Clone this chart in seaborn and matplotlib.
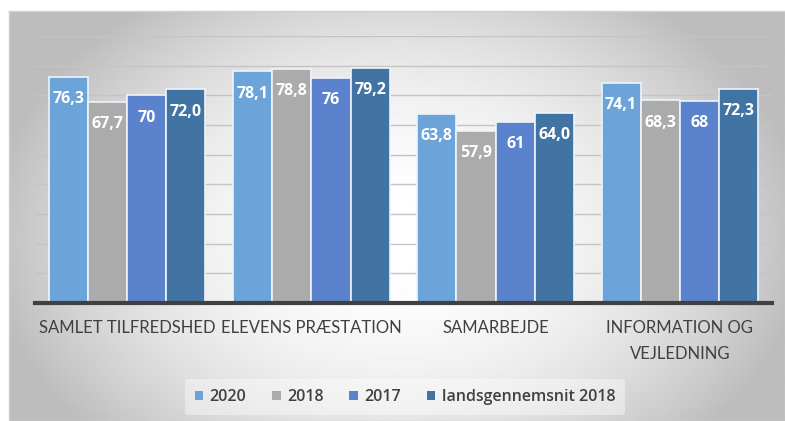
import numpy as np
import pandas as pd
import seaborn as sns
import matplotlib.pyplot as plt
from matplotlib.patches import Patch

# data
kategorier = ["SAMLET TILFREDSHED", "ELEVENS PRÆSTATION", "SAMARBEJDE", "INFORMATION OG\nVEJLEDNING"]
serier = ["2020", "2018", "2017", "landsgennemsnit 2018"]
v2020 = [76.3, 78.1, 63.8, 74.1]
v2018 = [67.7, 78.8, 57.9, 68.3]
v2017 = [70, 76, 61, 68]
vlands = [72.0, 79.2, 64.0, 72.3]
etiketter = [
    ["76,3", "78,1", "63,8", "74,1"],
    ["67,7", "78,8", "57,9", "68,3"],
    ["70", "76", "61", "68"],
    ["72,0", "79,2", "64,0", "72,3"],
]
farver = ["#6CA3D8", "#ABABAB", "#5B82CC", "#4274A3"]

rows = []
for s, vals in zip(serier, [v2020, v2018, v2017, vlands]):
    for k, v in zip(kategorier, vals):
        rows.append({"kategori": k, "serie": s, "vaerdi": v})
df = pd.DataFrame(rows)

sns.set_style("white")
plt.rcParams["font.family"] = ["Lato", "DejaVu Sans"]

fig = plt.figure(figsize=(7.85, 4.21), dpi=100)
fig.patch.set_facecolor("white")

# grey radial gradient behind the chart
bg = fig.add_axes([9 / 785, 0, 1 - 9 / 785, 410 / 421], zorder=0)
yy, xx = np.mgrid[0:1:200j, 0:1:300j]
r2 = ((xx - 0.5) / 0.55) ** 2 + ((yy - 0.55) / 0.75) ** 2
shade = np.clip(1.0 - 0.28 * r2, 0.74, 1.0)
bg.imshow(shade, cmap="gray", vmin=0, vmax=1, aspect="auto", extent=[0, 1, 0, 1])
bg.set_xticks([])
bg.set_yticks([])
for sp in bg.spines.values():
    sp.set_color("#d0d0d0")
    sp.set_linewidth(1)

ax = fig.add_axes([35 / 785, 118 / 421, 737 / 785, 267 / 421], zorder=1)
ax.patch.set_alpha(0)

sns.barplot(data=df, x="kategori", y="vaerdi", hue="serie", hue_order=serier,
            palette=farver, width=0.85, edgecolor="#eef4fb", linewidth=1.2,
            saturation=1, ax=ax, legend=False, zorder=3)

ax.set_ylim(0, 90)
ax.set_yticks(np.arange(10, 91, 10))
ax.yaxis.grid(True, color="#c4c4c4", linewidth=1, zorder=0)
ax.set_axisbelow(True)
ax.tick_params(axis="y", left=False, labelleft=False)
ax.tick_params(axis="x", bottom=False, pad=9, labelsize=12, labelcolor="#404040")
for t in ax.get_xticklabels():
    t.set_linespacing(1.75)
ax.set_xlabel("")
ax.set_ylabel("")
for side in ["top", "right", "left"]:
    ax.spines[side].set_visible(False)
ax.spines["bottom"].set_color("#404040")
ax.spines["bottom"].set_linewidth(3)
ax.spines["bottom"].set_zorder(5)
ax.set_xlim(-0.5, 3.5)

for cont, labs in zip(ax.containers, etiketter):
    for bar, lab in zip(cont, labs):
        ax.annotate(lab, (bar.get_x() + bar.get_width() / 2, bar.get_height()),
                    xytext=(0, -16), textcoords="offset points",
                    ha="center", va="center", color="white",
                    fontsize=11.5, fontweight="bold", family=["Open Sans", "DejaVu Sans"],
                    zorder=6)

handles = [Patch(facecolor=c, edgecolor="none") for c in farver]
leg = fig.legend(handles, serier, loc="center", bbox_to_anchor=(405 / 785, 1 - 397 / 421),
                 ncol=4, frameon=True, handlelength=0.55, handleheight=0.55,
                 handletextpad=0.4, columnspacing=1.6, borderpad=0.6,
                 prop={"family": ["Open Sans", "DejaVu Sans"], "weight": "semibold", "size": 11.5})
leg.get_frame().set_facecolor("white")
leg.get_frame().set_alpha(0.4)
leg.get_frame().set_edgecolor("none")
for t in leg.get_texts():
    t.set_color("#404040")

fig.savefig("out.png", dpi=100)
